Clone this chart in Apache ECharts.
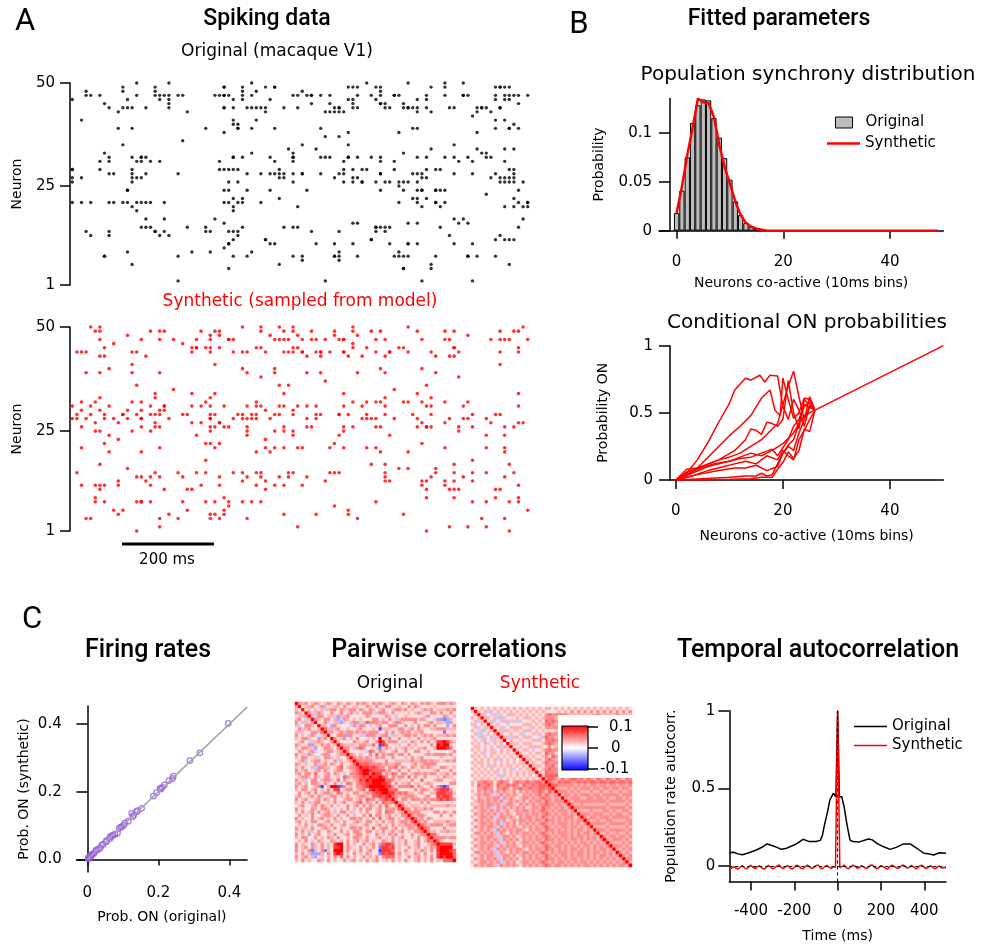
<!DOCTYPE html>
<html>
<head>
<meta charset="UTF-8">
<title>Spiking data and fitted model</title>
<script src="https://cdn.jsdelivr.net/npm/echarts@6/dist/echarts.min.js"></script>
<style>
  html, body { margin: 0; padding: 0; background: #fff; }
  #main { width: 982px; height: 949px; }
</style>
</head>
<body>
<div id="main"></div>
<script>
var chart = echarts.init(document.getElementById('main'));
var FONT = '"DejaVu Sans", sans-serif';
var TFONT = 'Roboto, sans-serif';

// ---- A: raster rows, [neuron, spike times (ms)]
var origRaster = [
  [50, [147,212,390,640,736,812,859]],
  [49, [117,188,330,337,378,426,442,449,601,611,629,662,678,788,817,926,933,938,943,957]],
  [48, [38,110,188,375,404,507,675]],
  [47, [38,49,65,140,185,193,207,210,236,246,315,322,330,338,349,375,390,489,495,511,522,527,545,562,627,658,678,703,708,717,775,815,850,855,868,929,948,951,962,976,999]],
  [46, [0,121,192,214,351,375,433,600,614,667,754,773,926,947,953]],
  [45, [72,217,525,564,611,670,678,681,720,975]],
  [44, [86,116,121,134,167,215,332,338,353,380,390,406,415,429,465,493,572,583,588,616,620,685,692,725,730,736,741,750,779,821,839,884,895,899,904,931,938]],
  [43, [101,257,428,552,569,578,588,599,752,783,888,917]],
  [42, [871]],
  [41, [29,359,400,926,941]],
  [40, [359,364,964]],
  [39, [100,130,293,361,366,390,448,547,741,757,926,951,958,978]],
  [38, [331,609,714,886]],
  [37, [557,588]],
  [36, [243]],
  [35, [114,504,601,832]],
  [34, [476,533,788,884,946,964]],
  [33, [74,390,489,726,890,904]],
  [32, [81,130,151,156,163,354,359,370,438,482,487,547,552,562,601,607,625,650,678,750,779,817,833,862,906,919]],
  [31, [69,81,145,157,174,194,324,443,486,596,678,703,849,873,946]],
  [29, [4,9,62,138,322,330,341,359,364,458,591,611,638,645,708,778,790,808,951,964]],
  [28, [83,94,134,168,236,380,418,431,447,458,467,487,500,509,543,588,596,672,678,746,754,764,837,873,928,964]],
  [27, [9,20,136,145,151,458,464,578,612,620,768,773,913,933,942,951,962]],
  [26, [1,130,346,361,480,594,617,630,636,669,681,692,710,722,736,757,933,942,953,964,982]],
  [25, [716]],
  [24, [121,125,332,348,383,433,516,676,723,754,761,767,790,796,804,813,971]],
  [23, [902]],
  [22, [359,373,455,741,759,774,962]],
  [21, [5,20,47,87,96,112,125,149,157,168,179,201,338,349,361,373,418,714,755,790,796,813,975,991,993]],
  [20, [133,359,495,764,806,941,960,986,995]],
  [19, [149,357]],
  [17, [169,207,315,832,854,980]],
  [16, [332,614,620,734,750,841,864]],
  [15, [156,163,175,250,299,375,460,486,496,661,668,675,680,690,809,972]],
  [14, [38,86,181,186,209,297,302,348,359,366,520,587,669,687]],
  [13, [40,81,199,212,367,828,933]],
  [12, [351,422,425,652,656,929,943,955,967]],
  [11, [343,348,431,449,533,578,614,698,730,736,759,830,871]],
  [10, [337]],
  [9, [122,268,301,397,587,710]],
  [8, [70,74,239,350,382,484,505,571,578,582,625,704,716,721,732,791,862,868,888,926]],
  [7, [506,582]],
  [6, [134,453,780,951]],
  [5, [343,723,726,780]],
  [2, [230,559,763,870]]
];
var synthRaster = [
  [50, [47,64,371,415,454,482,618,736,989]],
  [49, [53,67,176,194,207,280,315,328,417,469,487,522,572,618,656,674,754,810,833,935,967,977]],
  [48, [127,303,320,435,491,572,621,868]],
  [47, [67,152,196,227,272,301,341,346,359,447,454,462,470,502,522,538,554,581,592,596,663,683,766,813,825,912,938,944,957,995]],
  [46, [98,243,611]],
  [45, [78,268,273,278,296,306,320,401,419,482,496,614,643,712,728,830,833,973]],
  [44, [16,29,35,138,145,264,304,351,378,382,429,469,475,489,507,509,533,542,547,564,591,594,663,690,694,730,788,841,939,972]],
  [43, [67,75,167,518,541,603,633,680,793,828,837]],
  [41, [134,319,933]],
  [40, [88,373,448,676,764]],
  [39, [30,65,134,196,386,448,518,540,621,681,790]],
  [38, [419,841]],
  [37, [556]],
  [36, [149,459,477,774]],
  [35, [222,701]],
  [34, [183,268,319,467,598,759,970]],
  [33, [65,186,302,681,783]],
  [32, [23,51,136,157,299,402,611,646,668,675,723,739,761,810,868]],
  [31, [4,47,86,179,204,207,261,280,308,337,386,408,415,451,462,493,516,530,599,630,680,770,781,855,970]],
  [30, [22,62,122,157,192,201,425,480]],
  [29, [11,49,76,111,116,141,170,181,199,241,256,304,319,366,371,395,404,446,453,486,533,549,580,585,601,647,683,741,785,877,922,936]],
  [28, [7,16,30,70,91,129,152,159,212,307,309,357,373,384,399,409,433,518,536,633,640,654,665,708,755,824,851,864,904]],
  [27, [52,107,186,263,283,321,328,761,815,911,970,982]],
  [26, [24,154,183,197,303,315,333,343,386,467,513,524,596,611,668,678,757,770,774,788,842,875,941,965]],
  [25, [53,69,138,179,304,388,440,467,484,599,841]],
  [24, [83,270,388,484,581,690,904,943]],
  [23, [104,429]],
  [22, [78,295,306,322,578,763]],
  [21, [22,193,319,420,448,460,494,505,560,599,649,664,817,906,947]],
  [20, [87,150,404,435,679,739,941]],
  [18, [292,873]],
  [17, [67,658,683,833,951]],
  [16, [120,712,739,790]],
  [15, [11,181,237,274,291,359,371,400,414,472,480,560,572,586,680,791,830,878,907,960]],
  [14, [140,159,172,196,244,326,386,417,458,475,516,683,788,854,946]],
  [13, [109,163,370,422,557,688,698,762,770,815,831,878]],
  [12, [25,52,65,75,103,179,281,320,402,440,460,509,762,815,973]],
  [11, [67,204,256,264,422,770,825,835,846,920,938]],
  [9, [59,339,773,833,920,972]],
  [8, [53,75,141,152,159,175,244,297,312,342,373,396,412,667,870,904,953,978]],
  [7, [341,572]],
  [6, [96,118,255,338,609,996]],
  [5, [109,210,303,317,330,465,536,600,720]],
  [4, [35,47,192,230,301,320,386,629,893,941]],
  [2, [197,498,825,860,904]],
  [1, [149,777,953]]
];
var neuronTicks = [1, 25, 50];

// ---- B: population synchrony
var syncBins = [0,1,2,3,4,5,6,7,8,9,10,11,12,13,14,15,16];
var syncOrig = [0.018,0.041,0.075,0.110,0.128,0.134,0.133,0.115,0.095,0.074,0.052,0.030,0.016,0.008,0.004,0.002,0.001];
var syncSynth = [0.018,0.045,0.077,0.105,0.135,0.131,0.130,0.116,0.088,0.065,0.048,0.030,0.016,0.008,0.004,0.002,0.001,
  0,0,0,0,0,0,0,0,0,0,0,0,0,0,0,0,0,0,0,0,0,0,0,0,0,0,0,0,0,0,0,0,0];
var coactiveTicks = [0, 20, 40];

// conditional ON probability curves, [co-active count, P(ON)]
var condCurves = [
  [[0,0],[1,0.01],[2,0.05],[4,0.15],[6,0.28],[8,0.43],[10,0.57],[11,0.67],[13,0.757],[14,0.744],[15.7,0.78],[16.6,0.73],[17.6,0.78],[19,0.775],[20,0.55],[21,0.45],[22,0.6],[23,0.52],[24,0.4],[25,0.55],[26,0.52]],
  [[0,0],[2,0.04],[4,0.09],[6,0.17],[8,0.25],[10,0.33],[12,0.4],[14,0.48],[16,0.61],[17.6,0.67],[18.5,0.52],[19.5,0.48],[20,0.76],[21,0.6],[22,0.46],[23,0.5],[24,0.61],[25,0.6],[26,0.52]],
  [[0,0],[2,0.06],[5,0.1],[8,0.15],[11,0.22],[13,0.3],[14,0.38],[15,0.37],[16,0.34],[17,0.43],[18,0.42],[19,0.4],[20,0.45],[21,0.74],[22,0.5],[23,0.38],[24,0.6],[26,0.52]],
  [[0,0],[2,0.08],[4,0.09],[6,0.12],[8,0.15],[10,0.17],[12,0.2],[14,0.25],[16,0.3],[18,0.38],[19,0.42],[20,0.56],[21,0.7],[22,0.81],[23,0.62],[24,0.45],[25,0.62],[26,0.52]],
  [[0,0],[2,0.04],[4,0.08],[7,0.12],[10,0.14],[12,0.17],[14,0.2],[16,0.18],[18,0.22],[20,0.27],[22,0.35],[23,0.42],[24,0.55],[25,0.58],[26,0.52]],
  [[0,0],[3,0.03],[6,0.07],[9,0.1],[11,0.12],[13,0.14],[15,0.12],[17,0.18],[19,0.15],[20,0.22],[21,0.18],[22,0.15],[23,0.3],[24,0.37],[25,0.45],[26,0.52]],
  [[0,0],[4,0.04],[8,0.07],[11,0.09],[13,0.09],[15,0.11],[17,0.07],[19,0.1],[20,0.2],[21,0.26],[22,0.3],[23,0.42],[24,0.48],[26,0.52]],
  [[0,0],[5,0.01],[10,0.02],[13,0.03],[15,0.03],[16,0.05],[17,0.03],[18,0.04],[19,0.12],[20,0.2],[21,0.25],[22,0.22],[23,0.35],[25,0.55],[26,0.52]],
  [[0,0],[5,0],[10,0.005],[14,0.01],[16,0.02],[18,0.02],[19,0.08],[20,0.13],[21,0.21],[22,0.16],[23,0.22],[24,0.38],[25,0.36],[26,0.52]],
  [[0,0],[3,0.05],[6,0.1],[9,0.13],[12,0.16],[14,0.17],[16,0.2],[18,0.23],[19,0.18],[20,0.24],[21,0.3],[22,0.4],[23,0.45],[24,0.56],[26,0.52]]
];
var condTail = [[26,0.52],[50,1]];

// ---- C: firing rates, [original, synthetic]
var firingRates = [
  [0.397,0.402],[0.317,0.315],[0.289,0.292],[0.242,0.246],[0.240,0.239],[0.230,0.233],[0.217,0.220],[0.211,0.213],
  [0.207,0.208],[0.205,0.210],[0.195,0.197],[0.186,0.187],[0.153,0.151],[0.141,0.144],[0.139,0.141],[0.131,0.131],
  [0.128,0.126],[0.125,0.136],[0.115,0.113],[0.106,0.108],[0.103,0.101],[0.097,0.097],[0.094,0.095],[0.090,0.092],
  [0.085,0.077],[0.078,0.074],[0.073,0.072],[0.069,0.069],[0.064,0.067],[0.064,0.062],[0.054,0.055],[0.053,0.052],
  [0.045,0.045],[0.040,0.042],[0.036,0.033],[0.031,0.030],[0.026,0.028],[0.023,0.025],[0.019,0.018],[0.015,0.016],
  [0.012,0.013],[0.009,0.010],[0.008,0.008],[0.006,0.006],[0.004,0.003],[0.002,0.001],[0.003,0.005],[0.010,0.012]
];
var rateTicks = [0, 0.2, 0.4];

// pairwise correlations, lower triangle (row r holds columns 0..r-1)
// . faint, 1..5 increasing positive, a..d increasing negative
var corrLevels = {'.': 0.012, '1': 0.03, '2': 0.045, '3': 0.06, '4': 0.078, '5': 0.1,
                  'a': -0.02, 'b': -0.035, 'c': -0.05, 'd': -0.07};
var corrOrig = [
  "2", "1.", "21.", ".112", "12.a1", "2.11a2", "1a.221.", ".2112..1", "11a..2213", "2.1.12a.11",
  "1.221..b12 .", ".12.a1121. .2", "21..2b1.21 2.1", "1.221ab..2 21.2", ".21.12a..1 22.12",
  "2.1a21..12 b..122", "1.22..1a.2 21.1..2", ".12a.122.1 ..2a1.12", "21.1..2a12 .21.2..13",
  "1.2..1a221 1..23.1223", "2.12..12.2 a.122..123 4", "12.22.3..1 2.21.a.223 45",
  ".1221.2a.2 2..1.32122 343", "2.1a.22.12 21.3.2..12 4354", "12.1.221.2 a.2.1.32.2 33445",
  "2.12..12d. 155dc2.1.2 234555", "1.22.12.1. 2.44.122.1 23.4545", ".2.12.2.12 21.32.1.22 .1223445",
  "12..12.21. a22.1.2..1 221.33434", "2.12..12.2 1.2..122.1 2.322.2343",
  "1.2.1a22.. 1.2.12..12 3.21.2.322 2", ".12..12.21 .2.1..2.12 .2.21.2.31 .2",
  "2.1..21.22 1.a.1.2.1. 2.22.12.21 213", "1.2.12.2.1 2.1.22.1a. 1.2..12.32 2.12",
  ".2.1.2..12 21.2..2.1. .2.3.22.12 .1.22", "2.1..2.12. 1.2.1..221 2.1.2.3.12 2.1.22",
  "12.1.22..1 2.11.2..12 1.22.1.2.1 2.12213", ".1.2.a.221 .2..12.11. .12..12.1. 2.112212",
  "2.11.2..12 1.2.1..221 2.1.3.122. 12.1.2213", "1.2.11.2.. 21..2.1.22 1.22.1.2.1 2.12.1.223",
  "2.1.b.12.. 1.2..12.12 2.1..2.1.2 12.1..2.12 2", "1.22..2.1. 21.2..1.22 1.2..12.1. 2.12..1.2. 13",
  ".1.2.a.21. .21.1.2.12 .12.1..21. 2.1.2..12. 132", "2.1..21.2. 1.455.2.1. .2.12.2344 3.1.2..12. .123",
  "2.12.b1.2. 1.445.21.. 2.1.2.c443 4.1..2.12. 1.214", "2.1.2c1.2c 1.555.2.1. 2.12..d444 3.1.2..1.2 1.2.45",
  "1.2.1bbb1. 2.454.1.2. 1.21..c434 4.2.1..21. 2.1.455", "2.12.1b.1. 1.2.3.2.1. .2.1.2.233 3.1..2.12. 1.2.4545",
  "1.2.1..21. 2.1..2.12. 1.2.12..1. 2.1.2..12. 1.2.1.333"
];
var corrSynth = [
  "1", ".1", "1.1", ".1a1", "1a.1.", ".1a.11", "1.a1a.1", ".1aa.1.1", "1.a1a.1a1", ".1.a1.a1.1",
  "1.1.1a.1.1 .", ".11.a.1.1a 11", "1.1.1.1a.1 .1.", ".1.1a.11.1 .1.1", "1.1.1.1.1. a.1.1",
  ".1.1.1.1a1 .1.1.1", "1.11.1.1.1 .1.1.11", ".1.1.1a1.1 .11.1.1.", "1.1.1.1.1. 1.1a.1.11",
  ".1.1.1.1a. 1.1.1.1.11", "1.1.1.1.1a 1.1.1.1.1. 1", ".1.1.1.1.1 .1.1.1.1.1 .1",
  "1.22322.23 22.2322322 332", "1.32232.32 23232.3223 2333", "..22322.22 32.2232232 23323",
  "1.21212a21 2112.21212 232132", ".121221a12 12121.2121 2313212", "1.2112122a 2121.12212 12322121",
  ".122121212 a121212.21 221321222", "1.1212212a 1221.21212 1223221212",
  ".212121a21 2121212.12 2132212121 2", "1.1221212a 12.1212212 1232121222 12",
  ".2121212a2 121.221212 2123212122 121", "1.12212a12 2121.21221 2132121212 2212",
  ".212121a21 2.12122121 2213221212 12122", "1.1221212a 1212.21212 1232121222 121212",
  ".2121221a2 12121.2121 2123212122 1221212", "1.12121a21 2121221.21 2213221212 12122121",
  ".2212121a2 1.21212212 1232121222 121212212", "1.121221a1 2212.12121 2123212122 1212212121",
  ".21212121a 21212.2121 2213221212 1221212121 2", "1.1221212a 1212.12212 1232121221 2121221212 12",
  ".2121221a2 12121.2121 2123212212 1212122121 212", "1.12121a21 2121221.21 2213221212 1221212121 2212",
  ".2212121a2 1.21212212 1232121222 1212212122 12121", "1.121221a1 2212.12121 2123212122 1212212121 221212",
  ".21212121a 21212.2121 2213221212 1221212121 2121212", "1.1221212a 1212.12212 1232121221 2121221212 12121212",
  ".2121221a2 12121.2121 2123212212 1212122121 212121221"
];

// temporal autocorrelation
var acOrig = [[-500,0.085],[-480,0.088],[-460,0.078],[-440,0.072],[-420,0.08],[-400,0.09],[-375,0.103],[-345,0.124],
  [-325,0.142],[-300,0.13],[-280,0.12],[-260,0.107],[-240,0.112],[-220,0.124],[-190,0.142],[-160,0.172],[-130,0.157],
  [-100,0.157],[-80,0.165],[-70,0.2],[-60,0.27],[-45,0.36],[-36,0.425],[-20,0.468],[-8,0.446],[0,1],[8,0.446],
  [19,0.446],[30,0.38],[42,0.275],[57,0.167],[70,0.157],[100,0.155],[142,0.174],[160,0.168],[181,0.146],[210,0.125],
  [242,0.107],[270,0.12],[304,0.142],[335,0.142],[366,0.114],[397,0.082],[420,0.078],[443,0.071],[470,0.085],[500,0.082]];
var acLags = [];
for (var l = -500; l <= 500; l += 10) acLags.push(l);
var acSynth = [-0.01,-0.015,-0.005,-0.012,-0.02,-0.008,0.003,-0.012,-0.018,-0.006,
  0.005,-0.01,-0.016,-0.004,0.002,-0.014,-0.02,-0.01,0.004,-0.006,
  -0.018,-0.012,0.0,0.006,-0.01,-0.016,-0.004,0.003,-0.012,-0.02,
  -0.008,0.005,0.0,-0.014,-0.018,-0.006,0.006,-0.004,-0.016,-0.01,
  0.002,0.007,-0.012,-0.018,-0.005,0.004,-0.008,-0.015,-0.005,-0.01,
  1.0,
  -0.01,-0.004,0.006,-0.012,-0.018,-0.006,0.005,0.0,-0.015,-0.01,
  0.003,-0.006,-0.016,-0.012,0.004,0.006,-0.008,-0.018,-0.01,0.002,
  -0.004,-0.014,-0.02,-0.006,0.005,-0.002,-0.012,-0.016,-0.004,0.006,
  0.0,-0.014,-0.01,0.004,-0.006,-0.018,-0.012,0.002,0.005,-0.01,
  -0.016,-0.006,0.003,-0.012,-0.018,-0.008,0.0,-0.014,-0.01,-0.012];
var lagTicks = [-400, -200, 0, 200, 400];
var acTicks = [0, 0.5, 1];

// ---------- build series data
function rasterPoints(rows) {
  var pts = [];
  rows.forEach(function (r) {
    r[1].forEach(function (t) {
      pts.push([Math.min(995, Math.floor(t / 10) * 10 + 5), r[0]]);
    });
  });
  return pts;
}
function corrData(rows) {
  var L = rows.map(function (s) { return s.replace(/ /g, ''); });
  var out = [];
  for (var i = 0; i < 50; i++) {
    for (var j = 0; j < 50; j++) {
      var v;
      if (i === j) v = 0.1;
      else {
        var r = Math.max(i, j), c = Math.min(i, j);
        var ch = (L[r - 1] || '').charAt(c) || '.';
        v = corrLevels[ch];
      }
      out.push([j, i, v]);
    }
  }
  return out;
}
var cells = [];
for (var k = 0; k < 50; k++) cells.push(String(k));

var black = '#000';
var axLine = { lineStyle: { color: black, width: 1.5 } };
var lbl = { color: black, fontFamily: FONT, fontSize: 15 };
var nameStyle = { color: black, fontFamily: FONT, fontSize: 14 };

function valAxis(base, vals, len, margin, fmt) {
  return Object.assign({
    type: 'value', splitLine: { show: false }, axisLine: axLine,
    axisTick: { show: true, customValues: vals, length: len, lineStyle: { color: black, width: 1.5 } },
    axisLabel: Object.assign({ customValues: vals, margin: margin, formatter: fmt }, lbl),
    nameTextStyle: nameStyle, nameLocation: 'middle'
  }, base);
}

var series = [];
series.push({ type: 'scatter', xAxisIndex: 0, yAxisIndex: 0, symbolSize: 3.4, itemStyle: { color: black },
  data: rasterPoints(origRaster), silent: true });
series.push({ type: 'scatter', xAxisIndex: 1, yAxisIndex: 1, symbolSize: 3.6, itemStyle: { color: '#ff0000' },
  data: rasterPoints(synthRaster), silent: true });
series.push({ name: 'hist:Original', type: 'bar', xAxisIndex: 2, yAxisIndex: 2, barWidth: 5.3,
  itemStyle: { color: '#bdbdbd', borderColor: black, borderWidth: 1 },
  data: syncBins.map(function (b, i) { return [b, syncOrig[i]]; }) });
series.push({ name: 'hist:Synthetic', type: 'line', xAxisIndex: 2, yAxisIndex: 2, symbol: 'none',
  lineStyle: { color: '#ff0000', width: 2.5 }, itemStyle: { color: '#ff0000' }, z: 5,
  data: syncSynth.map(function (v, i) { return [i, v]; }) });
condCurves.forEach(function (c) {
  series.push({ type: 'line', xAxisIndex: 3, yAxisIndex: 3, symbol: 'none', data: c,
    lineStyle: { color: '#ff0000', width: 1.5 } });
});
series.push({ type: 'line', xAxisIndex: 3, yAxisIndex: 3, symbol: 'none', data: condTail,
  lineStyle: { color: '#ff0000', width: 1.5 } });
series.push({ type: 'line', xAxisIndex: 4, yAxisIndex: 4, symbol: 'none', data: [[0, 0], [0.45, 0.45]],
  lineStyle: { color: '#a6a6a6', width: 1.5 }, silent: true });
series.push({ type: 'scatter', xAxisIndex: 4, yAxisIndex: 4, symbol: 'circle', symbolSize: 5.5,
  itemStyle: { color: 'rgba(255,255,255,0)', borderColor: '#9a5ce6', borderWidth: 1.3 }, data: firingRates });
var heatIdx = series.length;
series.push({ type: 'heatmap', xAxisIndex: 5, yAxisIndex: 5, data: corrData(corrOrig), progressive: 0 });
series.push({ type: 'heatmap', xAxisIndex: 6, yAxisIndex: 6, data: corrData(corrSynth), progressive: 0 });
series.push({ name: 'ac:Original', type: 'line', xAxisIndex: 7, yAxisIndex: 7, symbol: 'none', data: acOrig,
  lineStyle: { color: black, width: 1.5 }, itemStyle: { color: black },
  markLine: { silent: true, symbol: ['none', 'none'], label: { show: false },
    lineStyle: { color: black, type: [3, 3], width: 1 }, data: [{ xAxis: 0 }, { yAxis: 0 }] } });
series.push({ name: 'ac:Synthetic', type: 'line', xAxisIndex: 7, yAxisIndex: 7, symbol: 'none', z: 4,
  data: acLags.map(function (t, i) { return [t, acSynth[i]]; }),
  lineStyle: { color: '#ff0000', width: 1.5 }, itemStyle: { color: '#ff0000' } });

function txt(x, y, s, size, opt) {
  opt = opt || {};
  return { type: 'text', x: x, y: y, z: 100,
    style: { text: s, fill: opt.color || black, align: opt.align || 'center', verticalAlign: 'middle',
      font: (opt.weight || 'normal') + ' ' + size + 'px ' + (opt.family || FONT) } };
}
var graphics = [
  txt(25, 22, 'A', 31, { family: TFONT }),
  txt(267, 19, 'Spiking data', 23, { family: TFONT, weight: 500 }),
  txt(277, 52, 'Original (macaque V1)', 17),
  txt(300, 302, 'Synthetic (sampled from model)', 17, { color: '#ff0000' }),
  txt(167, 560, '200 ms', 15),
  txt(579, 25, 'B', 31, { family: TFONT }),
  txt(779, 19, 'Fitted parameters', 23, { family: TFONT, weight: 500 }),
  txt(808, 75, 'Population synchrony distribution', 20),
  txt(807, 323, 'Conditional ON probabilities', 20),
  txt(32, 620, 'C', 31, { family: TFONT }),
  txt(148, 651, 'Firing rates', 25, { family: TFONT, weight: 500 }),
  txt(449, 651, 'Pairwise correlations', 25, { family: TFONT, weight: 500 }),
  txt(818, 651, 'Temporal autocorrelation', 25, { family: TFONT, weight: 500 }),
  txt(390, 684, 'Original', 17),
  txt(540, 684, 'Synthetic', 17, { color: '#ff0000' }),
  // colour bar over the synthetic matrix
  { type: 'rect', z: 90, shape: { x: 558, y: 715, width: 80, height: 63 }, style: { fill: '#fff' } },
  { type: 'rect', z: 95, shape: { x: 562, y: 726, width: 26, height: 44 },
    style: { stroke: black, lineWidth: 1.2,
      fill: new echarts.graphic.LinearGradient(0, 0, 0, 1, [
        { offset: 0, color: '#ff0000' }, { offset: 0.5, color: '#ffffff' }, { offset: 1, color: '#0000ff' }]) } },
  { type: 'line', z: 95, shape: { x1: 588, y1: 727, x2: 598, y2: 727 }, style: { stroke: black, lineWidth: 1.5 } },
  { type: 'line', z: 95, shape: { x1: 588, y1: 748, x2: 598, y2: 748 }, style: { stroke: black, lineWidth: 1.5 } },
  { type: 'line', z: 95, shape: { x1: 588, y1: 769, x2: 598, y2: 769 }, style: { stroke: black, lineWidth: 1.5 } },
  txt(609, 727, '0.1', 15, { align: 'left' }),
  txt(611, 748, '0', 15, { align: 'left' }),
  txt(600, 769, '-0.1', 15, { align: 'left' })
];

var legendName = function (n) { return n.split(':')[1]; };
var legendText = { color: black, fontFamily: FONT, fontSize: 15 };
var option = {
  animation: false,
  backgroundColor: '#fff',
  grid: [
    { left: 70, top: 83, width: 460, height: 202, outerBoundsMode: 'none' },
    { left: 70, top: 327, width: 460, height: 204, outerBoundsMode: 'none' },
    { left: 659, top: 98.4, width: 284.3, height: 132.3, outerBoundsMode: 'none' },
    { left: 670, top: 345.7, width: 273.4, height: 134.3, outerBoundsMode: 'none' },
    { left: 76.7, top: 706.1, width: 170.4, height: 165.8, outerBoundsMode: 'none' },
    { left: 295, top: 702, width: 161, height: 160, outerBoundsMode: 'none' },
    { left: 471, top: 707, width: 161, height: 160, outerBoundsMode: 'none' },
    { left: 729.3, top: 710.7, width: 216.7, height: 170.8, outerBoundsMode: 'none' }
  ],
  xAxis: [
    { type: 'value', gridIndex: 0, min: 0, max: 1000, show: false },
    { type: 'value', gridIndex: 1, min: 0, max: 1000, show: false },
    valAxis({ gridIndex: 2, min: -3.3, max: 50, name: 'Neurons co-active (10ms bins)', nameGap: 46 }, coactiveTicks, 8, 24),
    valAxis({ gridIndex: 3, min: -1.1, max: 50, name: 'Neurons co-active (10ms bins)', nameGap: 49 }, coactiveTicks, 9, 24),
    valAxis({ gridIndex: 4, min: -0.03, max: 0.45, name: 'Prob. ON (original)', nameGap: 38 }, rateTicks, 6, 14),
    { type: 'category', gridIndex: 5, data: cells, show: false },
    { type: 'category', gridIndex: 6, data: cells, show: false },
    valAxis({ gridIndex: 7, min: -500, max: 500, name: 'Time (ms)', nameGap: 48,
      axisLine: { onZero: false, lineStyle: { color: black, width: 1.5 } } }, lagTicks, 9, 22)
  ],
  yAxis: [
    valAxis({ gridIndex: 0, min: 1, max: 50, name: 'Neuron', nameGap: 46 }, neuronTicks, 10, 15),
    valAxis({ gridIndex: 1, min: 1, max: 50, name: 'Neuron', nameGap: 46 }, neuronTicks, 10, 15),
    valAxis({ gridIndex: 2, min: 0, max: 0.135, interval: 0.05, offset: -11, name: 'Probability', nameGap: 64,
      axisLine: { onZero: false, lineStyle: { color: black, width: 1.5 } } }, [0, 0.05, 0.1], 11, 18),
    valAxis({ gridIndex: 3, min: 0, max: 1, interval: 0.5, name: 'Probability ON', nameGap: 60,
      axisLine: { onZero: false, lineStyle: { color: black, width: 1.5 } } }, [0, 0.5, 1], 11, 17),
    valAxis({ gridIndex: 4, min: -0.037, max: 0.453, name: 'Prob. ON (synthetic)', nameGap: 45 }, rateTicks, 11, 15,
      function (v) { return v.toFixed(1); }),
    { type: 'category', gridIndex: 5, data: cells, inverse: true, show: false },
    { type: 'category', gridIndex: 6, data: cells, inverse: true, show: false },
    valAxis({ gridIndex: 7, min: -0.1, max: 1, name: 'Population rate autocorr.', nameGap: 51,
      axisLine: { onZero: false, lineStyle: { color: black, width: 1.5 } } }, acTicks, 11, 14)
  ],
  visualMap: {
    type: 'continuous', show: false, min: -0.1, max: 0.1, seriesIndex: [heatIdx, heatIdx + 1],
    inRange: { color: ['#0000ff', '#ffffff', '#ff0000'] }
  },
  legend: [
    { data: ['hist:Original'], left: 830, top: 110, itemWidth: 17, itemHeight: 11, icon: 'rect',
      selectedMode: false, formatter: legendName,
      itemStyle: { color: '#bdbdbd', borderColor: black, borderWidth: 1 },
      textStyle: Object.assign({ padding: [0, 0, 0, 8] }, legendText) },
    { data: ['hist:Synthetic'], left: 822, top: 131, itemWidth: 33, itemHeight: 2.5, icon: 'rect',
      selectedMode: false, formatter: legendName, textStyle: legendText },
    { data: ['ac:Original', 'ac:Synthetic'], orient: 'vertical', left: 849, top: 714, itemWidth: 33, itemHeight: 1.6,
      icon: 'rect', itemGap: 4, selectedMode: false, formatter: legendName, textStyle: legendText }
  ],
  graphic: graphics,
  series: series
};
chart.setOption(option);

// scale bar: 200 ms on the synthetic raster's time axis
var p0 = chart.convertToPixel({ xAxisIndex: 1 }, 113);
var p1 = chart.convertToPixel({ xAxisIndex: 1 }, 313);
graphics.push({ type: 'line', z: 100, shape: { x1: p0, y1: 544, x2: p1, y2: 544 },
  style: { stroke: black, lineWidth: 3 } });
chart.setOption({ graphic: graphics });
</script>
</body>
</html>
